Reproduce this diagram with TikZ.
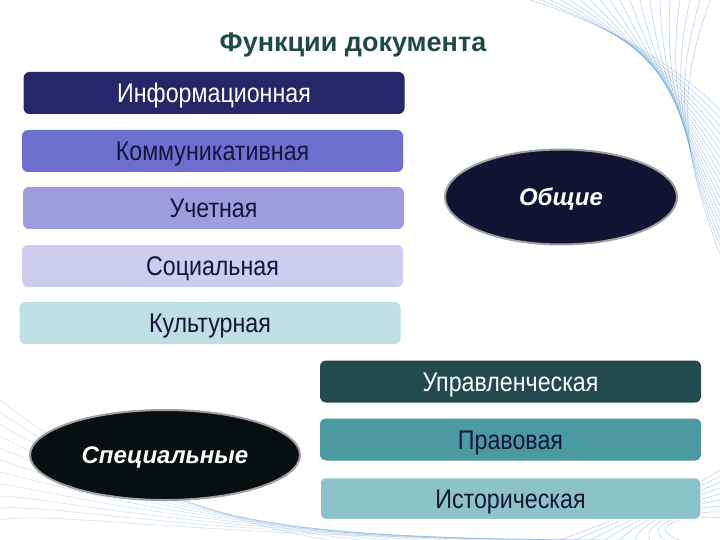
\documentclass[tikz,border=0pt]{standalone}
\usepackage{fontspec}
\setmainfont{Liberation Sans}
\newfontfamily\narrowfont{Liberation Sans}[FakeStretch=0.86]
\usepackage{tikz}
\usetikzlibrary{arrows,shapes}
\definecolor{navyA}{HTML}{262668}
\definecolor{blueB}{HTML}{6E6ECF}
\definecolor{blueC}{HTML}{9E9CDD}
\definecolor{blueD}{HTML}{CECDEF}
\definecolor{cyanE}{HTML}{BEE0E3}
\definecolor{tealA}{HTML}{234B4E}
\definecolor{tealB}{HTML}{4B9AA2}
\definecolor{tealC}{HTML}{8CC3CB}
\definecolor{inkdark}{HTML}{15153A}
\definecolor{titlegreen}{HTML}{1F4A46}
\definecolor{smoke}{HTML}{3C82C8}
\tikzstyle{func}=[rectangle,rounded corners=6pt,minimum width=381pt,minimum height=42pt,inner sep=0pt,text height=19pt,text depth=0pt,font=\narrowfont\fontsize{27}{30}\selectfont]
\tikzstyle{group}=[ellipse,draw=gray!75,line width=2pt,inner sep=0pt,text height=17pt,text depth=0pt,text=white,font=\fontsize{24}{26}\selectfont\bfseries\itshape]
\tikzstyle{wisp}=[draw=smoke,line width=0.7pt,opacity=0.3]

\begin{document}
\begin{tikzpicture}[x=1pt,y=-1pt]
    \useasboundingbox[fill=white] (0,0) rectangle (720,540);
    % Smoke in the corners
    \foreach \i in {0,...,18}
        \path[wisp] (530+\i*10,0) .. controls (610+\i*4,25+\i*3) and (675,65+\i*4) .. (720,110+\i*8);
    \foreach \i in {0,...,10}
        \path[wisp,opacity=0.2] (0,400+\i*12) .. controls (60,450+\i*6) and (200,520+\i*2) .. (330+\i*30,540);
    \foreach \i in {0,...,8}
        \path[wisp] (560+\i*15,540) .. controls (640,510+\i*2) and (690,490+\i*3) .. (720,470+\i*6);
    % Title
    \node[text=titlegreen,font=\fontsize{27}{30}\selectfont\bfseries] (title) at (353,45) {Функции документа};
    % First we draw the general functions
    \foreach \pos/\name/\col/\ink/\txt in {{(214,93)/info/navyA/white/Информационная},
        {(212.5,151)/komm/blueB/inkdark/Коммуникативная}, {(213.5,208)/uchet/blueC/inkdark/Учетная},
        {(212.5,266)/soc/blueD/inkdark/Социальная}, {(210,323)/kult/cyanE/inkdark/Культурная}}
        \node[func,fill=\col,text=\ink] (\name) at \pos {\txt};
    % Then the special ones
    \foreach \pos/\name/\col/\ink/\txt in {{(510.5,381.5)/upr/tealA/white/Управленческая},
        {(510.5,439.5)/prav/tealB/inkdark/Правовая}}
        \node[func,fill=\col,text=\ink] (\name) at \pos {\txt};
    \node[func,draw=white,line width=1.5pt,fill=tealC,text=inkdark] (ist) at (510.5,498.5) {Историческая};
    % Group ellipses
    \node[group,fill=inkdark!90!black,minimum width=232pt,minimum height=95pt] (obsh) at (561,197) {Общие};
    \node[group,fill=black!80!tealA,minimum width=270pt,minimum height=90pt] (spec) at (165,455) {Специальные};
\end{tikzpicture}
\end{document}
